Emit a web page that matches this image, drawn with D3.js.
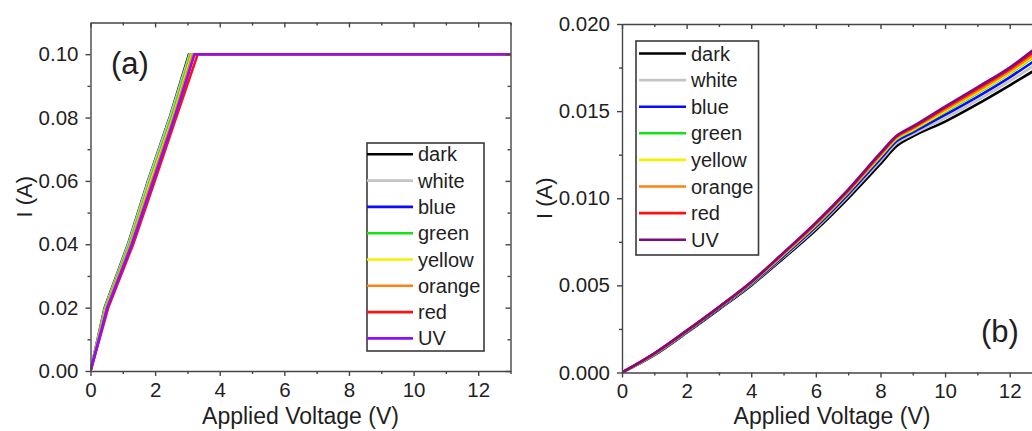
<!DOCTYPE html>
<html>
<head>
<meta charset="utf-8">
<script src="https://cdn.jsdelivr.net/npm/d3@7"></script>
<style>
  html, body { margin: 0; padding: 0; background: #fff; }
  svg { display: block; }
  text { font-family: "Liberation Sans", Arial, sans-serif; fill: #1f1f1f; }
  .axis path, .axis line { stroke: #454545; stroke-width: 1.4; }
</style>
</head>
<body>
<svg id="chart" width="1032" height="431"></svg>
<script>
// ---------- DATA ----------
const seriesNames = ["dark", "white", "blue", "green", "yellow", "orange", "red", "UV"];
const colorsA = ["#000000", "#c4c4c4", "#0a0aff", "#12e612", "#f2f200", "#ff8012", "#ff1010", "#8a10ff"];
const colorsB = ["#000000", "#c4c4c4", "#0a0aff", "#12e612", "#f2f200", "#ff8012", "#ff1010", "#800a80"];

// Panel (a): voltage (V) where each trace reaches 0, 0.02, 0.04, 0.06, 0.08, 0.10 A, then compliance to 13 V
const currentA = [0, 0.02, 0.04, 0.06, 0.08, 0.10, 0.10];
const voltA_dark   = [0, 0.44, 1.16, 1.78, 2.45, 3.05, 13];
const voltA_white  = [0, 0.45, 1.17, 1.79, 2.46, 3.07, 13];
const voltA_blue   = [0, 0.52, 1.27, 1.92, 2.60, 3.20, 13];
const voltA_green  = [0, 0.47, 1.21, 1.84, 2.51, 3.11, 13];
const voltA_yellow = [0, 0.49, 1.24, 1.87, 2.55, 3.14, 13];
const voltA_orange = [0, 0.50, 1.25, 1.90, 2.57, 3.17, 13];
const voltA_red    = [0, 0.55, 1.32, 1.99, 2.65, 3.32, 13];
const voltA_UV     = [0, 0.52, 1.28, 1.94, 2.60, 3.22, 13];

// Panel (b): current (A) at each voltage
const voltB = [0, 1, 2, 3, 4, 5, 6, 7, 8, 8.5, 9, 10, 11, 12, 13];
const curB_dark   = [0, 0.00100, 0.00228, 0.00362, 0.00500, 0.00656, 0.00818, 0.01000, 0.01198, 0.01300, 0.01355, 0.01440, 0.01540, 0.01648, 0.01760];
const curB_white  = [0, 0.00103, 0.00231, 0.00366, 0.00505, 0.00663, 0.00828, 0.01013, 0.01213, 0.01315, 0.01367, 0.01460, 0.01562, 0.01672, 0.01792];
const curB_blue   = [0, 0.00105, 0.00233, 0.00368, 0.00509, 0.00669, 0.00836, 0.01023, 0.01226, 0.01328, 0.01378, 0.01478, 0.01582, 0.01694, 0.01818];
const curB_green  = [0, 0.00107, 0.00236, 0.00372, 0.00514, 0.00677, 0.00845, 0.01034, 0.01239, 0.01340, 0.01390, 0.01496, 0.01603, 0.01716, 0.01845];
const curB_yellow = [0, 0.00107, 0.00237, 0.00373, 0.00515, 0.00678, 0.00847, 0.01036, 0.01242, 0.01343, 0.01393, 0.01500, 0.01608, 0.01720, 0.01850];
const curB_orange = [0, 0.00108, 0.00238, 0.00374, 0.00517, 0.00681, 0.00851, 0.01040, 0.01247, 0.01348, 0.01399, 0.01508, 0.01616, 0.01729, 0.01861];
const curB_red    = [0, 0.00109, 0.00239, 0.00375, 0.00519, 0.00685, 0.00856, 0.01045, 0.01254, 0.01354, 0.01406, 0.01518, 0.01628, 0.01741, 0.01877];
const curB_UV     = [0, 0.00110, 0.00240, 0.00376, 0.00520, 0.00688, 0.00860, 0.01050, 0.01260, 0.01358, 0.01412, 0.01526, 0.01637, 0.01750, 0.01890];

const xTicks = [0, 2, 4, 6, 8, 10, 12];
const yTicksA = [0, 0.02, 0.04, 0.06, 0.08, 0.10];
const yTicksB = [0, 0.005, 0.010, 0.015, 0.020];

const voltsA = [voltA_dark, voltA_white, voltA_blue, voltA_green, voltA_yellow, voltA_orange, voltA_red, voltA_UV];
const cursB = [curB_dark, curB_white, curB_blue, curB_green, curB_yellow, curB_orange, curB_red, curB_UV];

// ---------- DRAW ----------
const svg = d3.select("#chart");

function panel(cfg) {
  const g = svg.append("g");
  const x = d3.scaleLinear().domain([0, 13]).range([cfg.left, cfg.left + cfg.w]);
  const y = d3.scaleLinear().domain(cfg.yDomain).range([cfg.top + cfg.h, cfg.top]);

  const clipId = "clip" + cfg.id;
  svg.append("clipPath").attr("id", clipId).append("rect")
    .attr("x", cfg.left).attr("y", cfg.top - 3).attr("width", cfg.w).attr("height", cfg.h + 3);

  // lines
  const line = d3.line().x(d => x(d[0])).y(d => y(d[1])).curve(cfg.curve);
  const lg = g.append("g").attr("clip-path", `url(#${clipId})`);
  cfg.series.forEach((pts, i) => {
    lg.append("path").datum(pts)
      .attr("d", line).attr("fill", "none")
      .attr("stroke", cfg.colors[i]).attr("stroke-width", 2.6)
      .attr("stroke-linejoin", "round");
  });

  const minorX = d3.range(1, 14, 2);
  const bottom = cfg.top + cfg.h, right = cfg.left + cfg.w;

  // minor ticks
  g.append("g").attr("class", "axis").attr("transform", `translate(0,${bottom})`)
    .call(d3.axisBottom(x).tickValues(minorX).tickSize(3).tickSizeOuter(0).tickFormat(""))
    .select(".domain").remove();
  g.append("g").attr("class", "axis").attr("transform", `translate(0,${cfg.top})`)
    .call(d3.axisTop(x).tickValues(minorX).tickSize(-3).tickSizeOuter(0).tickFormat(""))
    .select(".domain").remove();
  g.append("g").attr("class", "axis").attr("transform", `translate(${cfg.left},0)`)
    .call(d3.axisLeft(y).tickValues(cfg.yMinor).tickSize(3).tickSizeOuter(0).tickFormat(""))
    .select(".domain").remove();
  g.append("g").attr("class", "axis").attr("transform", `translate(${right},0)`)
    .call(d3.axisRight(y).tickValues(cfg.yMinor).tickSize(-3).tickSizeOuter(0).tickFormat(""))
    .select(".domain").remove();

  // major axes
  const ax = g.append("g").attr("class", "axis").attr("transform", `translate(0,${bottom})`)
    .call(d3.axisBottom(x).tickValues(xTicks).tickSize(5).tickSizeOuter(0).tickPadding(6).tickFormat(d3.format("d")));
  ax.selectAll("text").attr("font-size", 20.5).attr("fill", "#1f1f1f").attr("font-family", "Liberation Sans, Arial");
  g.append("g").attr("class", "axis").attr("transform", `translate(0,${cfg.top})`)
    .call(d3.axisTop(x).tickValues(xTicks).tickSize(-5).tickSizeOuter(0).tickFormat(""));
  const ay = g.append("g").attr("class", "axis").attr("transform", `translate(${cfg.left},0)`)
    .call(d3.axisLeft(y).tickValues(cfg.yTicks).tickSize(5).tickSizeOuter(0).tickPadding(7).tickFormat(d3.format(cfg.fmt)));
  ay.selectAll("text").attr("font-size", 20.5).attr("fill", "#1f1f1f").attr("font-family", "Liberation Sans, Arial");
  g.append("g").attr("class", "axis").attr("transform", `translate(${right},0)`)
    .call(d3.axisRight(y).tickValues(cfg.yTicks).tickSize(-5).tickSizeOuter(0).tickFormat(""));

  // axis titles
  g.append("text").attr("x", cfg.left + cfg.w / 2).attr("y", 424)
    .attr("text-anchor", "middle").attr("font-size", 23).text("Applied Voltage (V)");
  g.append("text").attr("transform", `translate(${cfg.yTitleX},${cfg.top + cfg.h / 2}) rotate(-90)`)
    .attr("text-anchor", "middle").attr("font-size", 22).text("I (A)");

  // panel label
  g.append("text").attr("x", cfg.labelX).attr("y", cfg.labelY)
    .attr("font-family", "Lato, 'Open Sans', sans-serif").attr("font-size", 31).text(cfg.label);

  // legend
  const L = cfg.legend;
  g.append("rect").attr("x", L.x).attr("y", L.y).attr("width", L.w).attr("height", L.h)
    .attr("fill", "#fff").attr("stroke", "#3a3a3a").attr("stroke-width", 1.6);
  seriesNames.forEach((name, i) => {
    const cy = L.firstY + i * L.step;
    g.append("line").attr("x1", L.lx1).attr("x2", L.lx2).attr("y1", cy).attr("y2", cy)
      .attr("stroke", cfg.colors[i]).attr("stroke-width", 2.6);
    g.append("text").attr("x", L.tx).attr("y", cy + 7).attr("font-size", 20).text(name);
  });
}

panel({
  id: "a", left: 90.5, top: 22.5, w: 420, h: 348.5,
  yDomain: [0, 0.11], yTicks: yTicksA, yMinor: d3.range(0.01, 0.11, 0.02), fmt: ".2f",
  series: voltsA.map(vs => vs.map((v, j) => [v, currentA[j]])), curve: d3.curveLinear,
  colors: colorsA, yTitleX: 32, label: "(a)", labelX: 111, labelY: 74,
  legend: { x: 367, y: 143, w: 117, h: 208, firstY: 154.3, step: 26.3, lx1: 367, lx2: 413, tx: 418 }
});

panel({
  id: "b", left: 622, top: 24, w: 420, h: 348.5,
  yDomain: [0, 0.020], yTicks: yTicksB, yMinor: [0.0025, 0.0075, 0.0125, 0.0175], fmt: ".3f",
  series: cursB.map(cs => cs.map((c, j) => [voltB[j], c])), curve: d3.curveMonotoneX,
  colors: colorsB, yTitleX: 552, label: "(b)", labelX: 981, labelY: 342,
  legend: { x: 636, y: 41, w: 122.5, h: 214, firstY: 53.5, step: 26.6, lx1: 639, lx2: 686, tx: 691 }
});
</script>
</body>
</html>
